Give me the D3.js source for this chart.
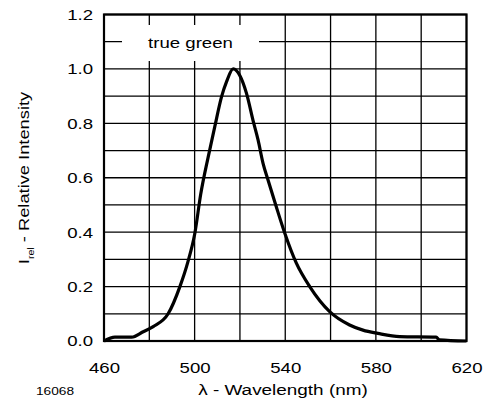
<!DOCTYPE html>
<html><head><meta charset="utf-8">
<script src="https://cdn.jsdelivr.net/npm/d3@7"></script>
<style>body{margin:0;background:#fff}svg{display:block}text{font-family:"Liberation Sans",Arial,Helvetica,sans-serif;fill:#000}</style>
</head><body>
<script>
const wavelength = [460,464.8,472.2,477.3,481.7,488.3,493.5,497.0,500.1,502.7,506.0,508.9,511.9,514.1,517.0,520.0,522.9,525.8,528.0,530.2,532.4,535.8,539.8,544.9,550.8,559.6,568.4,574.3,580.9,590.5,606.6,608.0,620];
const intensity  = [0,0.014,0.014,0.034,0.053,0.10,0.20,0.29,0.396,0.54,0.677,0.788,0.898,0.953,1.0,0.975,0.91,0.81,0.739,0.653,0.592,0.50,0.396,0.286,0.20,0.108,0.059,0.04,0.028,0.016,0.014,0.004,0];
const xTickLabels = [460,500,540,580,620];
const yTickLabels = [0.0,0.2,0.4,0.6,0.8,1.0,1.2];
const xGrid = d3.range(460,621,20);
const yGrid = d3.range(0,13).map(i=>i/10);
const legendLabel = "true green";

const W=486,H=410;
const svg=d3.select("body").append("svg").attr("width",W).attr("height",H);
const x=d3.scaleLinear().domain([460,620]).range([104,466.5]);
const y=d3.scaleLinear().domain([0,1.2]).range([341,14.5]);

function stretch(sel,k){
  sel.each(function(){
    const L=this.getComputedTextLength();
    d3.select(this).attr("textLength",L*k).attr("lengthAdjust","spacingAndGlyphs");
  });
}

// grid
const g=svg.append("g");
g.selectAll("line.v").data(xGrid).join("line").attr("x1",d=>x(d)).attr("x2",d=>x(d)).attr("y1",y(0)).attr("y2",y(1.2)).attr("stroke","#000").attr("stroke-width",1.3);
g.selectAll("line.h").data(yGrid).join("line").attr("x1",x(460)).attr("x2",x(620)).attr("y1",d=>y(d)).attr("y2",d=>y(d)).attr("stroke","#000").attr("stroke-width",1.3);

// legend box (white background)
svg.append("rect").attr("x",122).attr("y",25).attr("width",137).attr("height",36).attr("fill","#fff");
const lt=svg.append("text").attr("x",190.5).attr("y",y(1.1)+6).attr("text-anchor","middle").attr("font-size",15.5).text(legendLabel);
stretch(lt,1.2);

// frame
svg.append("rect").attr("x",x(460)).attr("y",y(1.2)).attr("width",x(620)-x(460)).attr("height",y(0)-y(1.2)).attr("fill","none").attr("stroke","#000").attr("stroke-width",2.2);

// curve
const line=d3.line().x((d,i)=>x(wavelength[i])).y(d=>y(d)).curve(d3.curveMonotoneX);
svg.append("path").attr("d",line(intensity)).attr("fill","none").attr("stroke","#000").attr("stroke-width",3.2).attr("stroke-linejoin","round");

// axes labels
const xAxis=d3.axisBottom(x).tickValues(xTickLabels).tickSize(0).tickPadding(0).tickFormat(d3.format("d"));
const xa=svg.append("g").attr("transform",`translate(0,${y(0)+27})`).call(xAxis);
xa.select(".domain").remove();
xa.selectAll("text").attr("font-size",15.5).attr("dy","0.35em").attr("fill","#000").style("font-family",'"Liberation Sans",Arial,sans-serif');
stretch(xa.selectAll("text"),1.2);

const yAxis=d3.axisLeft(y).tickValues(yTickLabels).tickSize(0).tickPadding(0).tickFormat(d3.format(".1f"));
const ya=svg.append("g").attr("transform",`translate(93,0)`).call(yAxis);
ya.select(".domain").remove();
ya.selectAll("text").attr("font-size",15.5).attr("fill","#000").style("font-family",'"Liberation Sans",Arial,sans-serif');
stretch(ya.selectAll("text"),1.2);

const xt=svg.append("text").attr("x",283).attr("y",395).attr("text-anchor","middle").attr("font-size",15.5).text("λ - Wavelength (nm)");
stretch(xt,1.22);
const nt=svg.append("text").attr("x",36).attr("y",395).attr("font-size",11.5).text("16068");
stretch(nt,1.19);

const yt=svg.append("text").attr("transform",`translate(29,178) rotate(-90)`).attr("text-anchor","middle").attr("font-size",15.5);
yt.append("tspan").text("I");
yt.append("tspan").attr("font-size",9).attr("dy",5).text("rel");
yt.append("tspan").attr("dy",-5).text(" - Relative Intensity");
stretch(yt.selectAll("tspan"),1.18);
</script>
</body></html>
